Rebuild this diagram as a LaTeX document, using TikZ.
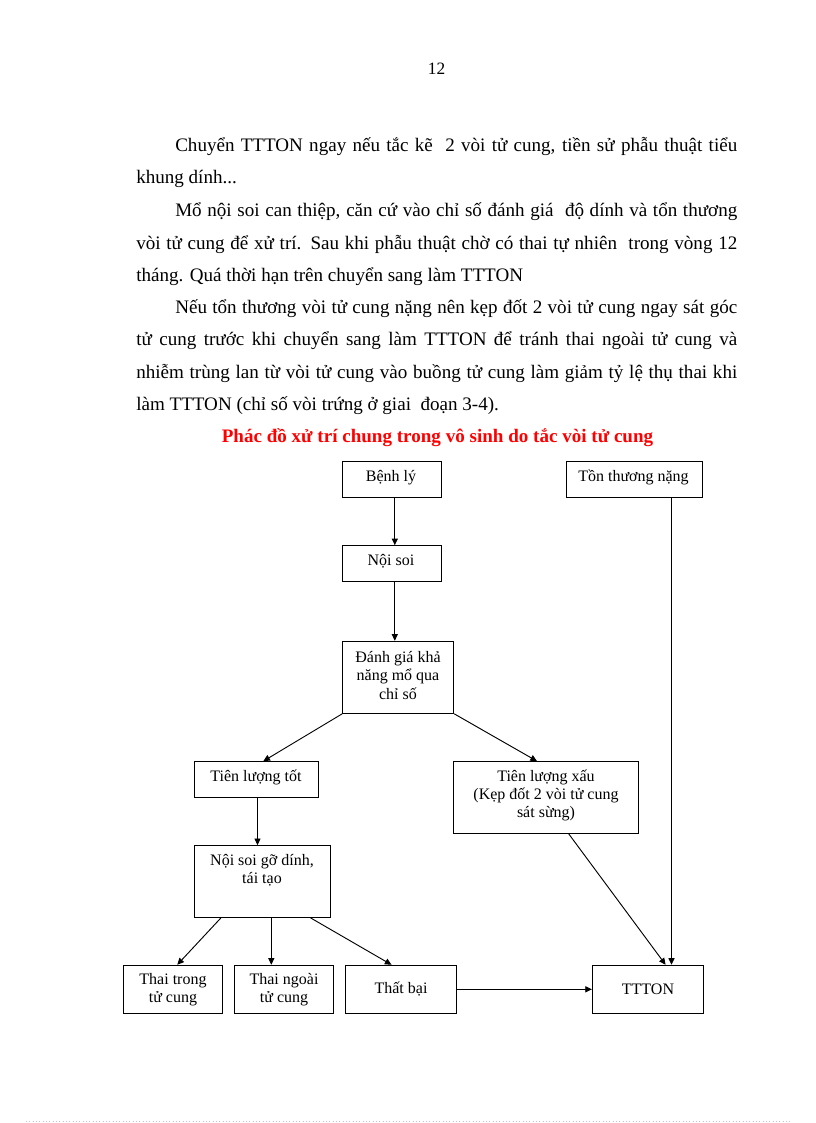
\documentclass[tikz,border=0pt]{standalone}
\usepackage{fontspec}
\setmainfont{Liberation Serif}
\usetikzlibrary{arrows.meta,calc}
\begin{document}
\begin{tikzpicture}[x=0.75pt,y=-0.75pt,
  box/.style={draw=black, line width=0.8pt, inner sep=0pt},
  lbl/.style={align=center, inner sep=0pt, font=\fontsize{12}{13.7}\selectfont},
  body/.style={anchor=base west, inner sep=0pt, font=\fontsize{14.3}{16}\selectfont},
  conn/.style={line width=0.7pt, -{Triangle[length=5pt,width=4.6pt]}}]
\useasboundingbox (0,0) rectangle (816,1123);
\fill[white] (0,0) rectangle (816,1123);

% page number
\node[anchor=base, inner sep=0pt, font=\fontsize{13}{15}\selectfont] (pg) at (436.5,75) {12};

% body text
\node[body] (l1) at (175,151.5) {\makebox[421.5pt][s]{Chuyển TTTON ngay nếu tắc kẽ\ \ 2 vòi tử cung, tiền sử phẫu thuật tiểu}};
\node[body] (l2) at (136,184) {khung dính...};
\node[body] (l3) at (175,216.5) {\makebox[421.5pt][s]{Mổ nội soi can thiệp, căn cứ vào chỉ số đánh giá\ \ độ dính và tổn thương}};
\node[body] (l4) at (136,249) {\makebox[450.75pt][s]{vòi tử cung để xử trí. Sau khi phẫu thuật chờ có thai tự nhiên\ \ trong vòng 12}};
\node[body] (l5) at (136,281.5) {tháng. Quá thời hạn trên chuyển sang làm TTTON};
\node[body] (l6) at (175,313) {\makebox[421.5pt][s]{Nếu tổn thương vòi tử cung nặng nên kẹp đốt 2 vòi tử cung ngay sát góc}};
\node[body] (l7) at (136,345.5) {\makebox[450.75pt][s]{tử cung trước khi chuyển sang làm TTTON để tránh thai ngoài tử cung và}};
\node[body] (l8) at (136,378) {\makebox[450.75pt][s]{nhiễm trùng lan từ vòi tử cung vào buồng tử cung làm giảm tỷ lệ thụ thai khi}};
\node[body] (l9) at (136,410.5) {làm TTTON (chỉ số vòi trứng ở giai\ \ đoạn 3-4).};

% title
\node[anchor=base, inner sep=0pt, text=red, font=\bfseries\fontsize{14.3}{16}\selectfont] (title) at (437.5,442) {Phác đồ xử trí chung trong vô sinh do tắc vòi tử cung};

% boxes
\node[box, minimum width=74.1pt, minimum height=26.7pt] (benh) at (392.1,479.5) {};
\node[box, minimum width=102.15pt, minimum height=27pt] (ton) at (634.7,479.2) {};
\node[box, minimum width=74.1pt, minimum height=26.5pt] (noisoi) at (392.1,563.4) {};
\node[box, minimum width=83.25pt, minimum height=54pt] (danhgia) at (398.2,677.3) {};
\node[box, minimum width=93.15pt, minimum height=26.7pt] (tlt) at (256.3,779.5) {};
\node[box, minimum width=139.1pt, minimum height=53.7pt] (tlx) at (546,797.5) {};
\node[box, minimum width=102pt, minimum height=53.7pt] (ngd) at (262.2,881.5) {};
\node[box, minimum width=74.2pt, minimum height=36pt] (thaitrong) at (173.25,989.3) {};
\node[box, minimum width=74.1pt, minimum height=36pt] (thaingoai) at (284,989.3) {};
\node[box, minimum width=83.3pt, minimum height=36pt] (thatbai) at (401.25,989.3) {};
\node[box, minimum width=83.3pt, minimum height=36pt] (ttton) at (648,989.3) {};

% box texts
\node[lbl] (tbenh) at (391,477.5) {Bệnh lý};
\node[lbl] (tton) at (633.5,477.5) {Tồn thương nặng};
\node[lbl] (tnoisoi) at (391,561.5) {Nội soi};
\node[lbl] (tdanhgia) at (398,675.3) {Đánh giá khả\\năng mổ qua\\chỉ số};
\node[lbl] (ttlt) at (256,777.5) {Tiên lượng tốt};
\node[lbl] (ttlx) at (546,795.5) {Tiên lượng xấu\\(Kẹp đốt 2 vòi tử cung\\sát sừng)};
\node[lbl] (tngd) at (262,870.5) {Nội soi gỡ dính,\\tái tạo};
\node[lbl] (tthaitrong) at (173,990) {Thai trong\\tử cung};
\node[lbl] (tthaingoai) at (284,990) {Thai ngoài\\tử cung};
\node[lbl] (tthatbai) at (401,989) {Thất bại};
\node[lbl] (tttton) at (648,989) {TTTON};

% connectors
\coordinate (c0) at ($(benh.south)+(2.7,0)$);
\draw[conn] (c0) -- (c0 |- noisoi.north);
\coordinate (c4) at ($(noisoi.south)+(2.7,0)$);
\draw[conn] (c4) -- (c4 |- danhgia.north);
\draw[conn] (danhgia.south west) -- ($(tlt.north)+(7,0)$);
\draw[conn] (danhgia.south east) -- ($(tlx.north)+(-9,0)$);
\coordinate (c1) at ($(tlt.south)+(1.2,0)$);
\draw[conn] (c1) -- (c1 |- ngd.north);
\draw[conn] ($(ngd.south west)+(27.3,0)$) -- ($(thaitrong.north)+(4,0)$);
\coordinate (c2) at ($(ngd.south)+(9.1,0)$);
\draw[conn] (c2) -- (c2 |- thaingoai.north);
\draw[conn] ($(ngd.south)+(48.3,0)$) -- ($(thatbai.north)+(-9.7,0)$);
\draw[conn] (thatbai.east) -- (ttton.west);
\draw[conn] ($(tlx.south)+(22.7,0)$) -- ($(ttton.north)+(17.6,0)$);
\coordinate (c3) at ($(ton.south)+(36.8,0)$);
\draw[conn] (c3) -- (c3 |- ttton.north);

% page-break dotted line
\draw[blue!25, dotted, line width=0.5pt] (26,1121.5) -- (791,1121.5);
\end{tikzpicture}
\end{document}
